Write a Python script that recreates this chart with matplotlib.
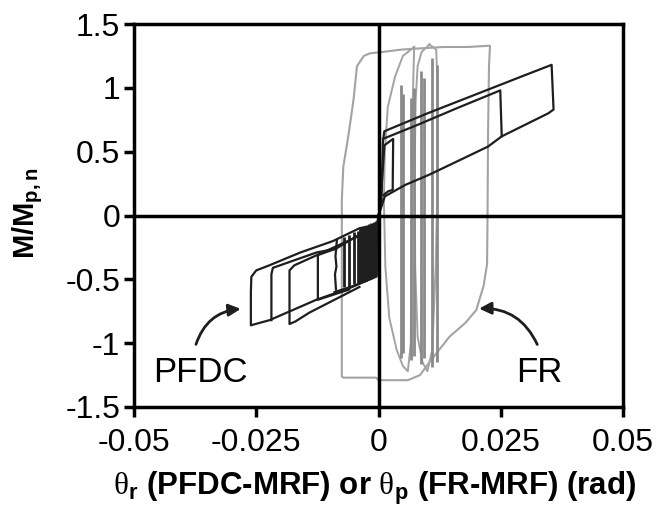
import matplotlib
matplotlib.use("Agg")
import matplotlib.pyplot as plt
from matplotlib.patches import FancyArrowPatch

plt.rcParams['font.family'] = ['Liberation Sans', 'DejaVu Sans']
plt.rcParams['mathtext.fontset'] = 'custom'
plt.rcParams['mathtext.rm'] = 'Liberation Serif'
plt.rcParams['mathtext.bf'] = 'Liberation Sans:bold'

# ----- axis ticks -----
x_ticks = [-0.05, -0.025, 0, 0.025, 0.05]
x_labels = ['-0.05', '-0.025', '0', '0.025', '0.05']
y_ticks = [1.5, 1, 0.5, 0, -0.5, -1, -1.5]
y_labels = ['1.5', '1', '0.5', '0', '-0.5', '-1', '-1.5']

# ----- FR-MRF response (gray) -----
fr_outer_x = [0.0006, -0.0018, -0.0030, -0.0044, -0.0051, -0.0061, -0.0072, -0.0075, -0.0075, -0.0075,
              -0.0072, -0.0005, 0.0000, 0.0006, 0.0060, 0.0085, 0.0104, 0.0145, 0.0178, 0.0200,
              0.0215, 0.0222, 0.0223, 0.0224, 0.0226, 0.0228, 0.0182, 0.0132, 0.0090, 0.0048, 0.0006]
fr_outer_y = [1.28, 1.27, 1.25, 1.17, 0.91, 0.64, 0.38, 0.12, -0.66, -1.26,
              -1.27, -1.27, -1.29, -1.29, -1.29, -1.25, -1.15, -0.95, -0.84, -0.74,
              -0.55, -0.38, 0.00, 0.64, 1.17, 1.33, 1.32, 1.32, 1.31, 1.30, 1.28]

fr_loop1_x = [0.0073, 0.0050, 0.0034, 0.0019, 0.0013, 0.0011, 0.0014, 0.0022, 0.0037, 0.0050,
              0.0060, 0.0066, 0.0068, 0.0070, 0.0073]
fr_loop1_y = [1.32, 1.25, 1.09, 0.85, 0.50, 0.12, -0.40, -0.80, -1.05, -1.18,
              -1.22, -1.00, 0.00, 0.90, 1.32]

fr_loop2_x = [0.0104, 0.0088, 0.0080, 0.0076, 0.0074, 0.0075, 0.0080, 0.0090, 0.0100, 0.0110,
              0.0117, 0.0121, 0.0121, 0.0118, 0.0104]
fr_loop2_y = [1.34, 1.28, 1.17, 0.90, 0.40, -0.40, -0.95, -1.15, -1.22, -1.05,
              -0.40, 0.30, 1.00, 1.30, 1.34]

# narrow cycles (thick gray strokes)
fr_strip_x = [0.0045, 0.0050, 0.0067, 0.0073, 0.0087, 0.0093, 0.0109, 0.0119]
fr_strip_top = [1.02, 0.95, 0.92, 1.00, 1.13, 1.08, 1.23, 1.18]
fr_strip_bot = [-1.12, -1.08, -1.13, -1.10, -1.16, -1.12, -1.19, -1.15]

# ----- PFDC-MRF response (black) -----
pos_outer_x = [0.0000, 0.0006, 0.0009, 0.0012, 0.0100, 0.0200, 0.0300, 0.0354, 0.0358,
               0.0347, 0.0252, 0.0224, 0.0175, 0.0104, 0.0055, 0.0013, 0.0000]
pos_outer_y = [0.00, 0.10, 0.58, 0.66, 0.80, 0.95, 1.10, 1.18, 0.83,
               0.80, 0.62, 0.54, 0.45, 0.32, 0.24, 0.15, 0.00]
pos_inner_x = [0.0009, 0.0080, 0.0160, 0.0249, 0.0252]
pos_inner_y = [0.60, 0.71, 0.84, 0.98, 0.62]
pos_small_x = [0.0006, 0.0012, 0.0030, 0.0029, 0.0020, 0.0010]
pos_small_y = [0.20, 0.55, 0.60, 0.20, 0.19, 0.16]

neg_outer_x = [0.0000, -0.0003, -0.0039, -0.0093, -0.0160, -0.0223, -0.0250, -0.0260, -0.0261,
               -0.0261, -0.0223, -0.0127, -0.0060, -0.0012, -0.0005, -0.0003, 0.0000]
neg_outer_y = [0.00, -0.07, -0.10, -0.20, -0.29, -0.39, -0.43, -0.48, -0.60,
               -0.86, -0.82, -0.66, -0.57, -0.49, -0.45, -0.12, 0.00]
neg_loop2_x = [-0.0035, -0.0087, -0.0127, -0.0216, -0.0219, -0.0219]
neg_loop2_y = [-0.14, -0.26, -0.29, -0.41, -0.46, -0.82]
neg_loop3_x = [-0.0040, -0.0120, -0.0172, -0.0182, -0.0182, -0.0170, -0.0141, -0.0090, -0.0039]
neg_loop3_y = [-0.16, -0.30, -0.39, -0.43, -0.85, -0.83, -0.76, -0.66, -0.56]
neg_loop4_x = [-0.0087, -0.0124, -0.0124, -0.0100, -0.0060]
neg_loop4_y = [-0.26, -0.31, -0.66, -0.63, -0.58]
neg_loop5_x = [-0.0085, -0.0088, -0.0086, -0.0089, -0.0087]
neg_loop5_y = [-0.19, -0.32, -0.40, -0.46, -0.58]
neg_bottom_x = [-0.0090, -0.0050, -0.0005]
neg_bottom_y = [-0.60, -0.55, -0.48]

# small cycles near the origin (dense black block)
neg_strip_x = [-0.0070, -0.0060, -0.0050, -0.0042, -0.0036, -0.0030, -0.0025, -0.0020, -0.0015, -0.0010, -0.0005]
neg_strip_top = [-0.17, -0.15, -0.13, -0.12, -0.10, -0.09, -0.08, -0.07, -0.06, -0.05, -0.04]
neg_strip_bot = [-0.56, -0.56, -0.54, -0.53, -0.52, -0.52, -0.51, -0.50, -0.49, -0.48, -0.47]
neg_block_x = [-0.0040, -0.0003, -0.0003, -0.0040]
neg_block_y = [-0.11, -0.05, -0.48, -0.53]

# ----- annotations -----
label_text = ['PFDC', 'FR']
label_x = [-0.0364, 0.0328]
label_y = [-1.23, -1.23]
arrow_tail = [(-0.0375, -1.03), (0.0327, -1.03)]
arrow_head = [(-0.0276, -0.73), (0.0200, -0.73)]
arrow_rad = [-0.35, 0.35]

# ----- Create Plot -----
fig = plt.figure(figsize=(6.6, 5.14), dpi=100)
ax = fig.add_axes([134 / 660, 107 / 514, 489 / 660, 383 / 514])

gray_light = '#a3a3a3'
gray_dark = '#8a8a8a'
black = '#1e1e1e'

ax.plot(fr_outer_x, fr_outer_y, color=gray_light, lw=1.5)
ax.plot(fr_loop1_x, fr_loop1_y, color=gray_light, lw=1.4)
ax.plot(fr_loop2_x, fr_loop2_y, color=gray_light, lw=1.4)
ax.vlines(fr_strip_x, fr_strip_bot, fr_strip_top, color=gray_dark, lw=2.0)

for xs, ys in [(pos_outer_x, pos_outer_y), (pos_inner_x, pos_inner_y), (pos_small_x, pos_small_y),
               (neg_outer_x, neg_outer_y), (neg_loop2_x, neg_loop2_y), (neg_loop3_x, neg_loop3_y),
               (neg_loop4_x, neg_loop4_y), (neg_loop5_x, neg_loop5_y), (neg_bottom_x, neg_bottom_y)]:
    ax.plot(xs, ys, color=black, lw=1.6)
ax.vlines(neg_strip_x, neg_strip_bot, neg_strip_top, color=black, lw=2.0)
ax.fill(neg_block_x, neg_block_y, color='#2a2a2a', lw=0)

# zero lines
ax.axhline(0, color='black', lw=2.5, zorder=3)
ax.axvline(0, color='black', lw=2.5, zorder=3)

# labels and arrows
for t, x, y in zip(label_text, label_x, label_y):
    ax.text(x, y, t, fontsize=25, ha='center', va='center')
for tail, head, rad in zip(arrow_tail, arrow_head, arrow_rad):
    arr = FancyArrowPatch(tail, head, connectionstyle=f"arc3,rad={rad}",
                          arrowstyle='-|>', mutation_scale=18, lw=2.0, color=black)
    ax.add_patch(arr)

# axes
ax.set_xlim(-0.05, 0.05)
ax.set_ylim(-1.5, 1.5)
ax.set_xticks(x_ticks)
ax.set_xticklabels(x_labels)
ax.set_yticks(y_ticks)
ax.set_yticklabels(y_labels)
ax.tick_params(axis='both', direction='out', length=7, width=2.5, labelsize=23)
ax.tick_params(axis='x', pad=8)
ax.tick_params(axis='y', pad=3)
for spine in ax.spines.values():
    spine.set_linewidth(2.5)

fig.text(28 / 660, 1 - 213 / 514, r"M/M$_\mathbf{p,n}$", rotation=90, fontsize=21,
         fontweight='bold', ha='center', va='center')
fig.text(375 / 660, 1 - 488 / 514,
         r"$\mathrm{\theta}_\mathbf{r}$ (PFDC-MRF) or $\mathrm{\theta}_\mathbf{p}$ (FR-MRF) (rad)",
         fontsize=22.5, fontweight='bold', ha='center', va='center')

plt.savefig("out.png", dpi=100)
